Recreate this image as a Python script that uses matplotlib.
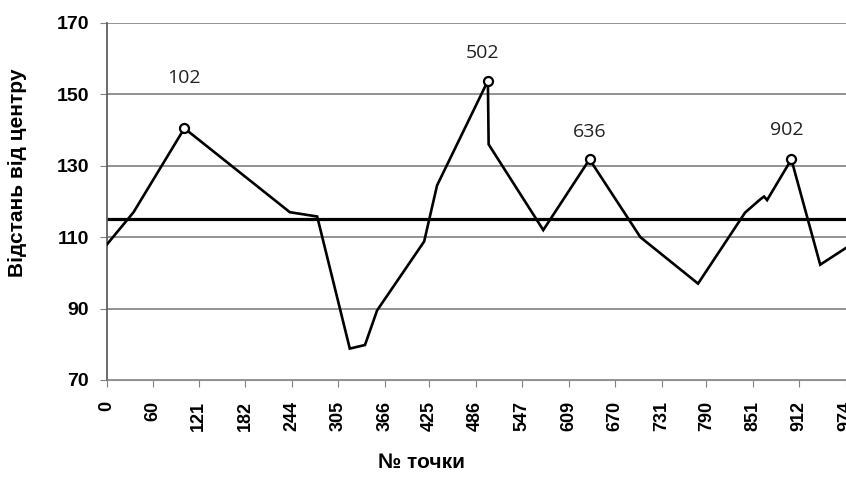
import matplotlib.pyplot as plt

# point number vs distance from centre
point_no = [0, 35, 102, 241, 277, 320, 340, 356, 418, 435, 502, 503,
            575, 636, 703, 779, 841, 861, 866, 870, 902, 940, 974]
distance = [108, 117, 140.5, 117, 115.8, 78.8, 79.8, 89.5, 108.8, 124.5, 153.8, 136,
            112, 131.8, 110, 97, 116.9, 120.6, 121.4, 120.4, 131.8, 102.3, 107]

peaks = [102, 502, 636, 902]
peak_offsets = [(0, 36), (-4, 20), (0, 20), (-3, 21)]
mean_level = 115.2

x_ticks = [0, 60, 121, 182, 244, 305, 366, 425, 486, 547, 609, 670, 731, 790, 851, 912, 974]
y_ticks = [70, 90, 110, 130, 150, 170]

plt.rcParams['font.family'] = ['Liberation Sans', 'DejaVu Sans']

fig = plt.figure(figsize=(8.46, 4.78), dpi=100)
ax = fig.add_axes([107 / 846, 1 - 380 / 478, 1 - 107 / 846, (380 - 23) / 478])

ax.plot(point_no, distance, color='black', lw=1.9, solid_joinstyle='miter', zorder=3)
ax.axhline(mean_level, color='black', lw=2.3, zorder=2)

peak_vals = [distance[point_no.index(p)] for p in peaks]
ax.plot(peaks, peak_vals, 'o', ms=6.5, mfc='white', mec='black', mew=1.6, zorder=4)
for p, v, off in zip(peaks, peak_vals, peak_offsets):
    ax.annotate(str(p), (p, v), xytext=off, textcoords='offset points',
                ha='center', va='center', fontsize=14,
                family=['Open Sans', 'DejaVu Sans'], color='#222222')

ax.set_xlim(0, 974)
ax.set_ylim(70, 170)
ax.set_xticks(x_ticks)
ax.set_xticklabels([str(t) for t in x_ticks], rotation=90, fontsize=13, fontweight='bold')
ax.set_yticks(y_ticks)
ax.set_yticklabels([str(t) for t in y_ticks], fontsize=14, fontweight='bold')
ax.yaxis.grid(True, color='#808080', lw=1.2)
ax.set_axisbelow(True)

for side in ['top', 'right']:
    ax.spines[side].set_visible(False)
ax.spines['left'].set_color('#606060')
ax.spines['bottom'].set_color('#909090')
ax.spines['left'].set_linewidth(1.3)
ax.tick_params(axis='both', colors='#808080', labelcolor='black', length=5, direction='out')
ax.tick_params(axis='x', pad=10)
ax.tick_params(axis='y', pad=8)

ax.set_ylabel('Відстань від центру', fontsize=15, fontweight='bold')
ax.yaxis.set_label_coords(-0.108, 0.58)
ax.set_xlabel('№ точки', fontsize=15, fontweight='bold')
ax.xaxis.set_label_coords(0.426, -0.205)

fig.savefig('out.png', dpi=100)
